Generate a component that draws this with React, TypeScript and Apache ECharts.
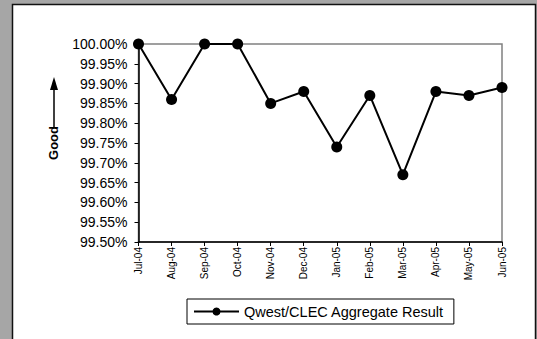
import React, { useEffect, useRef } from "react";
import * as echarts from "echarts";

const categories = ["Jul-04", "Aug-04", "Sep-04", "Oct-04", "Nov-04", "Dec-04", "Jan-05", "Feb-05", "Mar-05", "Apr-05", "May-05", "Jun-05"];
const seriesName = "Qwest/CLEC Aggregate Result";
const values = [100.0, 99.86, 100.0, 100.0, 99.85, 99.88, 99.74, 99.87, 99.67, 99.88, 99.87, 99.89];
const yMin = 99.5;
const yMax = 100.0;
const yStep = 0.05;
const axisTitle = "Good";

export default function App() {
  const ref = useRef<HTMLDivElement>(null);
  useEffect(() => {
    const chart = echarts.init(ref.current!, null, { renderer: "svg" });
    const font = "'Liberation Sans', Arial, sans-serif";
    chart.setOption({
      animation: false,
      backgroundColor: "#a6a6a6",
      textStyle: { fontFamily: font },
      graphic: [
        {
          type: "rect",
          z: -10,
          shape: { x: 12.5, y: 4.5, width: 523, height: 340 },
          style: { fill: "#ffffff", stroke: "#111111", lineWidth: 1.5 },
        },
        {
          type: "line",
          shape: { x1: 54, y1: 88, x2: 54, y2: 127 },
          style: { stroke: "#000", lineWidth: 1.5 },
        },
        {
          type: "polygon",
          shape: { points: [[50, 90], [58, 90], [54, 77]] },
          style: { fill: "#000" },
        },
        {
          type: "text",
          x: 53,
          y: 143,
          rotation: Math.PI / 2,
          style: {
            text: axisTitle,
            font: `bold 13px ${font}`,
            fill: "#000",
            align: "center",
            verticalAlign: "middle",
          },
        },
      ],
      grid: {
        left: 138.5,
        right: 35,
        top: 44,
        bottom: 97,
        show: true,
        borderColor: "#808080",
        borderWidth: 1.5,
        backgroundColor: "#ffffff",
      },
      legend: {
        left: 187,
        top: 299,
        orient: "horizontal",
        backgroundColor: "#fff",
        borderColor: "#000",
        borderWidth: 1,
        padding: [5, 10, 5, 6],
        itemWidth: 45,
        itemHeight: 10,
        textStyle: { fontSize: 14.5, color: "#000", fontFamily: font },
        data: [seriesName],
      },
      xAxis: {
        type: "category",
        data: categories,
        boundaryGap: false,
        axisLine: { lineStyle: { color: "#000", width: 1.5 } },
        axisTick: { show: true, alignWithLabel: true, length: 4, lineStyle: { color: "#000" } },
        axisLabel: { rotate: 90, fontSize: 10, color: "#000", margin: 5, interval: 0 },
        splitLine: { show: false },
      },
      yAxis: {
        type: "value",
        min: yMin,
        max: yMax,
        interval: yStep,
        axisLine: { show: true, lineStyle: { color: "#000", width: 1.5 } },
        axisTick: { show: true, length: 4, lineStyle: { color: "#000" } },
        axisLabel: {
          fontSize: 14,
          color: "#000",
          margin: 11,
          formatter: (v: number) => v.toFixed(2) + "%",
        },
        splitLine: { show: false },
      },
      series: [
        {
          name: seriesName,
          type: "line",
          data: values,
          symbol: "circle",
          symbolSize: 11,
          lineStyle: { color: "#000", width: 2 },
          itemStyle: { color: "#000" },
          z: 5,
        },
      ],
    });
    return () => chart.dispose();
  }, []);
  return (
    <div
      ref={ref}
      style={{ position: "fixed", left: 0, top: 0, width: 537, height: 339 }}
    />
  );
}
